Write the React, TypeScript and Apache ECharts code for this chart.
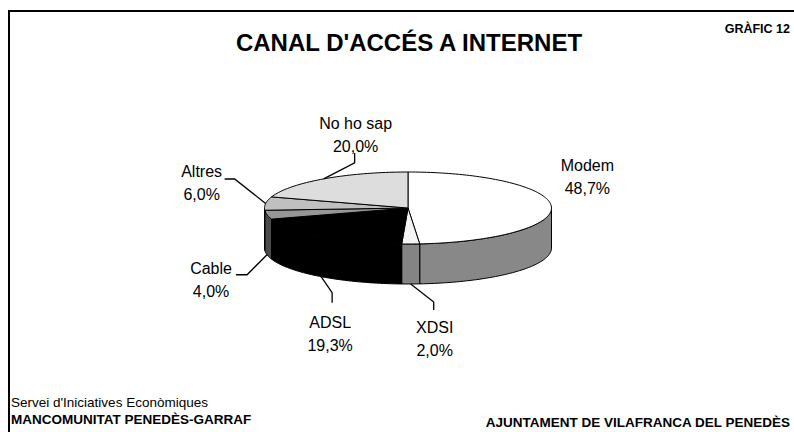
import React, { useEffect, useRef } from "react";
import * as echarts from "echarts";

// ---- data ----
const categories = ["Modem", "XDSI", "ADSL", "Cable", "Altres", "No ho sap"];
const shares = [48.7, 2.0, 19.3, 4.0, 6.0, 20.0];

// ---- styles ----
const topColors = ["#ffffff", "#f4f4f4", "#000000", "#969696", "#c0c0c0", "#dddddd"];
const sideColors = ["#888888", "#848484", "#000000", "#4b4b4b", "#606060", "#6e6e6e"];

// ---- layout ----
const PIE = { cx: 408, cy: 208, rx: 143.5, ry: 36, depth: 40 };
const FONT = '"Liberation Sans", Arial, sans-serif';
const LABEL_SIZE = 16;
const LINE_GAP = 23;
// label block centre and leader-line bend, relative to the slice anchor point
const labelOffsets = [
  { dx: 36, dy: -30, bend: null as null | number[][] },
  { dx: 24, dy: 55, bend: [[23, 18], [23, 26]] },
  { dx: 9, dy: 57, bend: [[11, 16], [11, 26]] },
  { dx: -56, dy: 25, bend: [[-20, 20], [-31, 20]] },
  { dx: -64, dy: -20, bend: [[-31, -24.5], [-41, -24.5]] },
  { dx: 32, dy: -44, bend: [[31, -16], [31, -26]] },
];

const total = shares.reduce((a, b) => a + b, 0);
const startAngles: number[] = [];
{
  let acc = 0;
  shares.forEach((v) => {
    startAngles.push((acc / total) * 360);
    acc += v;
  });
}

function pt(theta: number, dy = 0): number[] {
  const r = (theta * Math.PI) / 180;
  return [PIE.cx + PIE.rx * Math.sin(r), PIE.cy - PIE.ry * Math.cos(r) + dy];
}
function arc(a: number, b: number, dy = 0): number[][] {
  const n = Math.max(2, Math.ceil((b - a) / 1.5));
  const out: number[][] = [];
  for (let i = 0; i <= n; i++) out.push(pt(a + ((b - a) * i) / n, dy));
  return out;
}
function sliceAngles(i: number) {
  const a = startAngles[i];
  const b = a + (shares[i] / total) * 360;
  return { a, b, mid: (a + b) / 2 };
}
function anchorOf(i: number): number[] {
  const { mid } = sliceAngles(i);
  const r = (mid * Math.PI) / 180;
  const front = Math.cos(r) < 0;
  return pt(mid, front ? PIE.depth : 0);
}
function fmt(v: number) {
  return v.toFixed(1).replace(".", ",") + "%";
}

export default function App() {
  const ref = useRef<HTMLDivElement>(null);
  useEffect(() => {
    if (!ref.current) return;
    const chart = echarts.init(ref.current, undefined, { renderer: "svg" });
    const data = shares.map((v, i) => ({ name: categories[i], value: v }));

    const renderPie = (params: any) => {
      const i = params.dataIndex;
      const { a, b } = sliceAngles(i);
      const children: any[] = [];
      const s = Math.max(a, 90);
      const e = Math.min(b, 270);
      if (e > s) {
        const pts = arc(s, e, 0).concat(arc(s, e, PIE.depth).reverse());
        children.push({
          type: "polygon",
          shape: { points: pts },
          style: { fill: sideColors[i], stroke: "#000", lineWidth: 1 },
        });
      }
      children.push({
        type: "polygon",
        shape: { points: [[PIE.cx, PIE.cy]].concat(arc(a, b, 0)) },
        style: { fill: topColors[i], stroke: "#000", lineWidth: 1 },
      });
      return { type: "group", children };
    };

    const renderLabels = (params: any) => {
      const i = params.dataIndex;
      const anc = anchorOf(i);
      const off = labelOffsets[i];
      const children: any[] = [];
      if (off.bend) {
        const pts = [anc].concat(off.bend.map((p) => [anc[0] + p[0], anc[1] + p[1]]));
        children.push({
          type: "polyline",
          shape: { points: pts },
          style: { stroke: "#000", lineWidth: 1.3, fill: null },
        });
      }
      const lx = anc[0] + off.dx;
      const ly = anc[1] + off.dy;
      [categories[i], fmt(shares[i])].forEach((t, k) => {
        children.push({
          type: "text",
          x: lx,
          y: ly + (k === 0 ? -LINE_GAP / 2 : LINE_GAP / 2),
          style: {
            text: t,
            fill: "#000",
            font: `${LABEL_SIZE}px ${FONT}`,
            textAlign: "center",
            textVerticalAlign: "middle",
          },
        });
      });
      return { type: "group", children };
    };

    chart.setOption({
      animation: false,
      backgroundColor: "#ffffff",
      series: [
        {
          type: "custom",
          coordinateSystem: "none",
          data,
          renderItem: renderPie,
          silent: true,
          z: 2,
        },
        {
          type: "custom",
          coordinateSystem: "none",
          data,
          renderItem: renderLabels,
          silent: true,
          z: 3,
        },
      ],
      graphic: [
        { type: "line", shape: { x1: 8, y1: 11, x2: 794, y2: 11 }, style: { stroke: "#000", lineWidth: 2 } },
        { type: "line", shape: { x1: 9, y1: 10, x2: 9, y2: 432 }, style: { stroke: "#000", lineWidth: 2 } },
        {
          type: "text",
          x: 409,
          y: 42,
          style: {
            text: "CANAL D'ACCÉS A INTERNET",
            fill: "#000",
            font: `bold 24px ${FONT}`,
            textAlign: "center",
            textVerticalAlign: "middle",
          },
        },
        {
          type: "text",
          x: 790,
          y: 28.5,
          style: {
            text: "GRÀFIC 12",
            fill: "#000",
            font: `bold 12.5px ${FONT}`,
            textAlign: "right",
            textVerticalAlign: "middle",
          },
        },
        {
          type: "text",
          x: 11,
          y: 402,
          style: {
            text: "Servei d'Iniciatives Econòmiques",
            fill: "#000",
            font: `13.5px ${FONT}`,
            textAlign: "left",
            textVerticalAlign: "middle",
          },
        },
        {
          type: "text",
          x: 11,
          y: 419.5,
          style: {
            text: "MANCOMUNITAT PENEDÈS-GARRAF",
            fill: "#000",
            font: `bold 13.5px ${FONT}`,
            textAlign: "left",
            textVerticalAlign: "middle",
          },
        },
        {
          type: "text",
          x: 790,
          y: 422,
          style: {
            text: "AJUNTAMENT DE VILAFRANCA DEL PENEDÈS",
            fill: "#000",
            font: `bold 13.5px ${FONT}`,
            textAlign: "right",
            textVerticalAlign: "middle",
          },
        },
      ],
    });
    return () => chart.dispose();
  }, []);
  return (
    <div
      ref={ref}
      style={{ position: "absolute", left: 0, top: 0, width: 794, height: 432, background: "#fff" }}
    />
  );
}
